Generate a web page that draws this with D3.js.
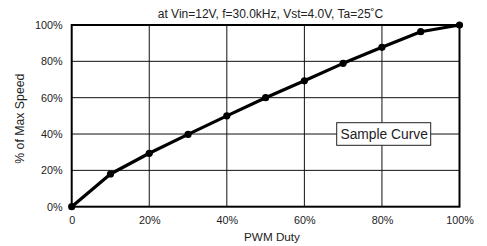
<!DOCTYPE html>
<html><head><meta charset="utf-8">
<script src="https://cdn.jsdelivr.net/npm/d3@7"></script>
<style>body{margin:0;background:#fff}text{font-family:"Liberation Sans",Arial,sans-serif;fill:#222}</style>
</head><body><svg id="c" width="487" height="246"></svg>
<script>
const duty = [0,10,20,30,40,50,60,70,80,90,100];
const speed = [0,18,29.4,39.8,50,60,69.3,78.9,87.7,96.3,100];
const xTicks = [0,20,40,60,80,100];
const yTicks = [0,20,40,60,80,100];
const xTickLabels = ["0","20%","40%","60%","80%","100%"];
const title = "at Vin=12V, f=30.0kHz, Vst=4.0V, Ta=25˚C";

const svg = d3.select("#c");
const L=71.7,R=459.5,T=25,B=206.7;
const x = d3.scaleLinear().domain([0,100]).range([L,R]);
const y = d3.scaleLinear().domain([0,100]).range([B,T]);

// grid
svg.append("g").selectAll("line").data(xTicks.slice(1,-1)).join("line")
 .attr("x1",d=>x(d)).attr("x2",d=>x(d)).attr("y1",T).attr("y2",B).attr("stroke","#111").attr("stroke-width",1);
svg.append("g").selectAll("line").data(yTicks.slice(1,-1)).join("line")
 .attr("y1",d=>y(d)).attr("y2",d=>y(d)).attr("x1",L).attr("x2",R).attr("stroke","#111").attr("stroke-width",1);
// frame
svg.append("rect").attr("x",L).attr("y",T).attr("width",R-L).attr("height",B-T).attr("fill","none").attr("stroke","#000").attr("stroke-width",2);

// axes via d3
const xa = svg.append("g").attr("transform",`translate(0,${B})`)
 .call(d3.axisBottom(x).tickValues(xTicks).tickFormat((d,i)=>xTickLabels[i]).tickSize(0).tickPadding(10));
xa.select(".domain").remove();
xa.selectAll("text").attr("font-size",10.8).attr("fill","#222").attr("font-family","Liberation Sans, Arial, sans-serif");
const ya = svg.append("g").attr("transform",`translate(${L},0)`)
 .call(d3.axisLeft(y).tickValues(yTicks).tickFormat(d=>d+"%").tickSize(0).tickPadding(9));
ya.select(".domain").remove();
ya.selectAll("text").attr("font-size",10.8).attr("fill","#222").attr("font-family","Liberation Sans, Arial, sans-serif");

// line
const pts = duty.map((d,i)=>[d,speed[i]]);
svg.append("path").datum(pts).attr("fill","none").attr("stroke","#000").attr("stroke-width",3.2)
 .attr("stroke-linejoin","round").attr("d",d3.line().x(d=>x(d[0])).y(d=>y(d[1])));
svg.append("g").selectAll("circle").data(pts).join("circle")
 .attr("cx",d=>x(d[0])).attr("cy",d=>y(d[1])).attr("r",3.6).attr("fill","#000");

// legend
const lg = svg.append("g");
lg.append("rect").attr("x",336.7).attr("y",122.7).attr("width",94).attr("height",22.6).attr("fill","#fff").attr("stroke","#222").attr("stroke-width",1);
lg.append("text").attr("x",384.2).attr("y",139).attr("text-anchor","middle").attr("font-size",13.8).text("Sample Curve");

// titles
svg.append("text").attr("x",270.5).attr("y",17.5).attr("text-anchor","middle").attr("font-size",12).text(title);
svg.append("text").attr("x",272).attr("y",241).attr("text-anchor","middle").attr("font-size",11.7).text("PWM Duty");
svg.append("text").attr("transform","translate(23.5,118.7) rotate(-90)").attr("text-anchor","middle").attr("font-size",12.3).text("% of Max Speed");
</script></body></html>
